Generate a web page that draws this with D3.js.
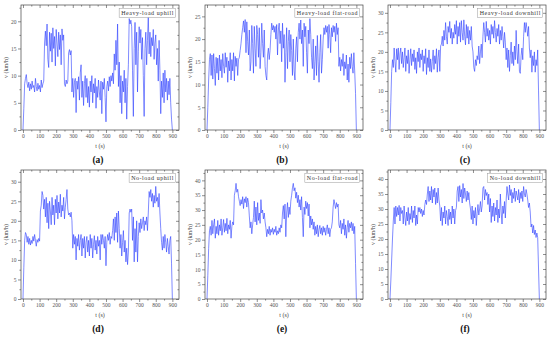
<!DOCTYPE html>
<html><head><meta charset="utf-8">
<script src="https://cdn.jsdelivr.net/npm/d3@7/dist/d3.min.js"></script>
<style>body{margin:0;background:#fff}svg{display:block}</style>
</head><body>
<svg id="c" width="550" height="340"></svg>
<script>
// sampling times (s), one value every 5 s
const times = d3.range(0, 901, 5);
const xTicks = [0,100,200,300,400,500,600,700,800,900];

const titles = ["Heavy-load uphill","Heavy-load flat-road","Heavy-load downhill","No-load uphill","No-load flat-road","No-load downhill"];
const captions = ["(a)","(b)","(c)","(d)","(e)","(f)"];
const yMax = [23, 27.5, 32, 33, 43.5, 43];
const yTicksA = [0,5,10,15,20];
const yTicksB = [0,5,10,15,20,25];
const yTicksC = [0,5,10,15,20,25,30];
const yTicksE = [0,5,10,15,20,25,30,35,40];

const heavyUphill = [0,4,8.5,9.5,10.2,8.5,7.8,8.8,7.2,8.5,7.5,9,7.8,8.2,7,9.5,8,7.2,8.6,7.5,8.2,7,9.2,7.8,8.5,9,16,18.2,15.5,19.5,13,11.5,18,14.5,17.8,12.5,18.8,15,17.2,11.8,18.5,16,13.5,18,14.8,17.5,12,18.6,16.5,17.5,8.5,8,9.2,8.5,9,14.2,14.8,13.8,14.6,7,9.5,6,8.8,9.5,3.2,9,7.5,9.8,5.5,10.5,12,6,9,4.5,8.5,10,6,9.5,5,8,4.2,9,7,10,5,8.5,6.8,9.5,4,8,6,9.2,7,5.5,9,3,8.8,7.5,9.5,6,1.5,8,9,7.2,9.8,8,10,9,10.5,8.5,14,11,16.5,12,19.5,8,12.5,5,10,3,9,7,11,5,9.5,2,8,12,20.5,19.5,20.2,19,11,2.5,15,19.8,12,18,7,14.5,19,16,18.5,13,17,10,2.5,15,18,12,16.5,21,14,18,13.5,17,15.5,18.5,13,16,17.5,12,15,9,16.5,11,3,9,6,10.5,5,11,7,9.5,5.5,9,6.5,9.5,5,2,0];
const heavyFlat = [0,5,11,15.5,16.8,12,16.5,11.2,16.8,13.5,9.8,16,12.5,15.8,11,16.5,13,15.5,11.5,16.8,14,12.5,17,13.8,16,10.5,15.2,13,17,11,15.5,13,17,10.8,16.2,14,15.8,12,15.5,16,17.5,19,21,22.5,24,21.5,24.3,17,23.8,19.5,16.5,22,13,15,23,19,12.5,22.8,18,14,23,21,16,22.5,13.5,17,23.5,19,16,22,14,12,11,16.5,18,15.5,17.5,21,23.5,22,23,21.5,22.8,20,23.2,16.5,22,23.5,19,21.8,15,23.5,18,21,10.5,17,22.5,13.5,19.5,22,15,21,17.5,12,20,13,11,18,20.5,15,21.5,23.5,20,24.2,19,22,14,23.5,20.5,22.8,17,12.5,22,19,24.5,21,16,13.5,20,11,15,18.5,12,20.8,15,10.5,17,21,12.5,15.5,20,22.5,21,23,21.5,22.8,18,23.2,21,17,22.5,20.5,23,21.5,22.8,19.5,23.5,21,22.5,14,16,13,15.5,14,16.8,12,15,13.5,16.5,11,14.5,10.5,16,13.5,16.8,14,12.5,17,13,8,0];
const heavyDown = [0,7,15,18,16,21,17.5,14.8,20.8,18,21,15.5,19.5,21,17,20,16,18.5,21,15,19,17,20.5,14.5,18,20.8,16.5,19.5,17.5,20.5,15.5,18.5,14.5,20,17.5,21,16,19.5,18,20.5,15,19,17,20.8,14.2,18.5,16,20.5,15,18.2,14.8,17.5,20.5,15.5,19,17,20.8,14.8,18.5,20.5,15,21.5,22,24,21.5,25.5,23,27.5,24,22,26.5,25,27.8,23.5,26,22,25,23.5,27,24.5,28,22,26.5,24,27.5,22.5,28,25,23,28.2,24,21.8,27,23.5,26.5,22,25.5,23,26.5,21.5,20,16,15,18,16.5,19,18,21.5,17,20,22,18.5,24,27.5,25,22.5,27.8,24,26,23,25.5,22,27,24.5,26.5,23.5,28,25,22.5,26,24,27,22,25.5,23,26.5,24,21,25,22.5,18,21,16,20.5,15,19,22.5,17,20,16.5,21.5,18,25.5,20,17,22,15,14.5,19,21,18,24,27.5,25,27.5,26,24,26.5,21,18.5,20.5,14.8,19,16.5,20,14.8,18,16.5,20.5,10,0];
const noUphill = [0,8,15,17,16.5,14.5,16,14,15.5,13.8,15,14.2,16,14.8,16.5,15,13.5,15.2,14.5,15.5,14.8,22.5,24,27.5,26.5,23,25.5,21,26,19.5,24.5,18,25,22.5,19,26,21.5,24,19,25.5,22,26.5,20.5,24.8,22,26.8,21,24,22.5,26,20.5,23.5,25.5,28,23,21.5,22,21,22.2,20,13,16.5,14,16,10,15.5,13.5,16.5,12.5,15,16.5,11,15.5,13,16,10.5,14.5,16,12,15,11,16.5,13,15.5,10.5,14,16.2,12.5,15,11.5,16,13.5,15,10,16.5,14,16.5,15,13,16,8.5,14.5,16.5,15,17,14,16,15.5,17.5,20.5,15,21,17,22,14.5,22.5,18,13,16.5,11,14.5,17.5,12,15,9.5,13,8.8,12,22,23,22.2,23,15,21,9.5,18,12,20,9.5,16,19.5,17,20.5,18,19.5,21,17.5,20,19,21,17.5,22,27.5,26,28,25,27,23.5,26.5,24.5,28.8,25,26,23.5,27,22,18,14.5,12.5,16,13,16.5,14.5,12,15.5,13.5,11.5,15,16,9,0];
const noFlat = [0,8,17,23,24.5,21.5,26.5,22,25,27,20.5,24.5,22,26.5,21.5,25,23,27,21.5,24,26.8,22.5,25.5,23,27.2,22,25,23.5,26.5,20.5,24.5,26,25,35,36.5,39,36,37,34.5,33,31.5,33.5,32,34.5,30.5,33.8,32.5,34.5,31,34,32.5,28,24,26,22,25,27.5,33,26,31,25,32.5,26.5,29,25.5,33.5,29,30,27,29,26,24,21,23.5,22,24.5,21.5,23.5,22.5,24,21.8,23.5,22.5,24.5,21.5,23,22,24,22.5,25,24,29,31.5,27,32,21,29,32.5,27.5,31,28.5,33,35,37.5,39,36.5,37.5,34,36,32.5,35,31,33.5,30,34.5,27.5,21,31,28.5,33,30.5,32.5,28,32,24,28,25,27,23.5,26,21.5,24.5,22,25,21,23.5,24.8,22,24,21.5,24.5,22.5,24,21.5,23.5,25,22,24,21,23.5,24,26,31,33.5,32,30.5,32.5,31,32,25,24,26.5,22,25.5,23.5,27,21.5,25,20.5,24,26.5,22.5,25.5,24,26,23,25.5,22,24.5,12,0];
const noDown = [0,6,13,20,26,30.5,25,31,27.5,30.5,28,31.2,26,30.5,28.5,29.5,25,31,27,24.5,29,26,30.5,24.8,28.5,26.5,31,25.5,29.5,27,31,24.5,28,25,30.5,29,30.5,28.5,30,27.5,29.5,28,31.5,33,31.5,35,37.5,32.5,36,33,37.5,32,36.5,34,37,31.5,35.5,32,37,33,31,26,30.5,24.5,29,27,31,25,29.5,27.5,24.5,30,26.5,29,25,31,27,30,25,29.5,30.5,36,37.5,32.5,37.8,34,36.5,32,38.5,33.5,37,35,32.5,36,33,35.5,32,30,26.5,31,25,29.5,27,30.5,24.5,28.5,31.5,28,30,32.5,29,31,37,37.5,33,36.5,34.5,35.5,31.5,35,29,33.5,25.5,31,27.5,32,26,30.5,28,33,25.5,30,27,35,29,25,31,28.5,32.5,27,33,37.5,35,33,38,34.5,36.5,32,35.5,33.5,37,32.5,36,34.5,33,36.5,32,35.5,33.5,36,32.5,37.5,35,34,36.5,35,33,30.5,32,29,24,25,22,24.5,21.5,23,20.5,22,20.5,10,0];

const series = [heavyUphill, heavyFlat, heavyDown, noUphill, noFlat, noDown];
const yTickSets = [yTicksA, yTicksB, yTicksC, yTicksC, yTicksE, yTicksE];

const svg = d3.select("#c");
const colX = [21, 205, 388];
const rowY = [5, 170];
const rowH = [125, 129];
const W = 158;
const serif = "'Liberation Serif','DejaVu Serif',serif";

series.forEach((vals, i) => {
  const col = i % 3, row = Math.floor(i / 3);
  const x0 = colX[col], y0 = rowY[row], H = rowH[row];
  const g = svg.append("g").attr("transform", `translate(${x0},${y0})`);
  const x = d3.scaleLinear().domain([-12, 940]).range([0, W]);
  const y = d3.scaleLinear().domain([0, yMax[i]]).range([H, 0]);
  const yt = yTickSets[i];
  const yMinor = d3.range(2.5, yMax[i], 5);
  const xMinor = d3.range(50, 901, 100);

  // data line
  g.append("path")
    .datum(vals.map((v, k) => [times[k], v]))
    .attr("fill", "none")
    .attr("stroke", "#2a3cff")
    .attr("stroke-width", 0.6)
    .attr("stroke-linejoin", "round")
    .attr("d", d3.line().x(d => x(d[0])).y(d => y(d[1])));

  const styleAxis = sel => {
    sel.select(".domain").remove();
    sel.selectAll("line").attr("stroke", "#444").attr("stroke-width", 0.6);
    sel.selectAll("text").attr("font-family", serif).attr("font-size", 5.5).attr("fill", "#555");
  };
  // bottom
  g.append("g").attr("transform", `translate(0,${H})`)
    .call(d3.axisBottom(x).tickValues(xTicks).tickSize(3).tickPadding(1.5)).call(styleAxis);
  g.append("g").attr("transform", `translate(0,${H})`)
    .call(d3.axisBottom(x).tickValues(xMinor).tickSize(1.6).tickFormat("")).call(styleAxis);
  // top (inward)
  g.append("g").call(d3.axisTop(x).tickValues(xTicks).tickSize(-3).tickFormat("")).call(styleAxis);
  g.append("g").call(d3.axisTop(x).tickValues(xMinor).tickSize(-1.6).tickFormat("")).call(styleAxis);
  // left
  g.append("g").call(d3.axisLeft(y).tickValues(yt).tickSize(3).tickPadding(1.5)).call(styleAxis);
  g.append("g").call(d3.axisLeft(y).tickValues(yMinor).tickSize(1.6).tickFormat("")).call(styleAxis);
  // right (inward)
  g.append("g").attr("transform", `translate(${W},0)`)
    .call(d3.axisRight(y).tickValues(yt).tickSize(-3).tickFormat("")).call(styleAxis);
  g.append("g").attr("transform", `translate(${W},0)`)
    .call(d3.axisRight(y).tickValues(yMinor).tickSize(-1.6).tickFormat("")).call(styleAxis);

  // frame
  g.append("rect").attr("width", W).attr("height", H)
    .attr("fill", "none").attr("stroke", "#444").attr("stroke-width", 0.7);

  // legend box
  const lg = g.append("g");
  const lr = lg.append("rect");
  const lt = lg.append("text")
    .attr("font-family", serif).attr("font-size", 6).attr("letter-spacing", 0.55)
    .attr("fill", "#333").attr("text-anchor", "end")
    .attr("x", W - 5).attr("y", 10.2).text(titles[i]);
  const bb = lt.node().getBBox();
  lr.attr("x", bb.x - 2).attr("y", 3.5).attr("width", bb.width + 3.5).attr("height", 9)
    .attr("fill", "#fff").attr("stroke", "#999").attr("stroke-width", 0.5);

  // y label
  g.append("text").attr("transform", `translate(-13,${H / 2}) rotate(-90)`)
    .attr("text-anchor", "middle").attr("font-family", serif).attr("font-size", 6)
    .attr("fill", "#444").text("v (km/h)");
  // x label
  g.append("text").attr("x", W / 2).attr("y", H + 17.5)
    .attr("text-anchor", "middle").attr("font-family", serif).attr("font-size", 6)
    .attr("fill", "#444").text("t (s)");
  // caption
  g.append("text").attr("x", W / 2 - 2).attr("y", H + 33)
    .attr("text-anchor", "middle").attr("font-family", serif).attr("font-size", 9.5)
    .attr("font-weight", "bold").attr("fill", "#111").text(captions[i]);
});
</script>
</body></html>
